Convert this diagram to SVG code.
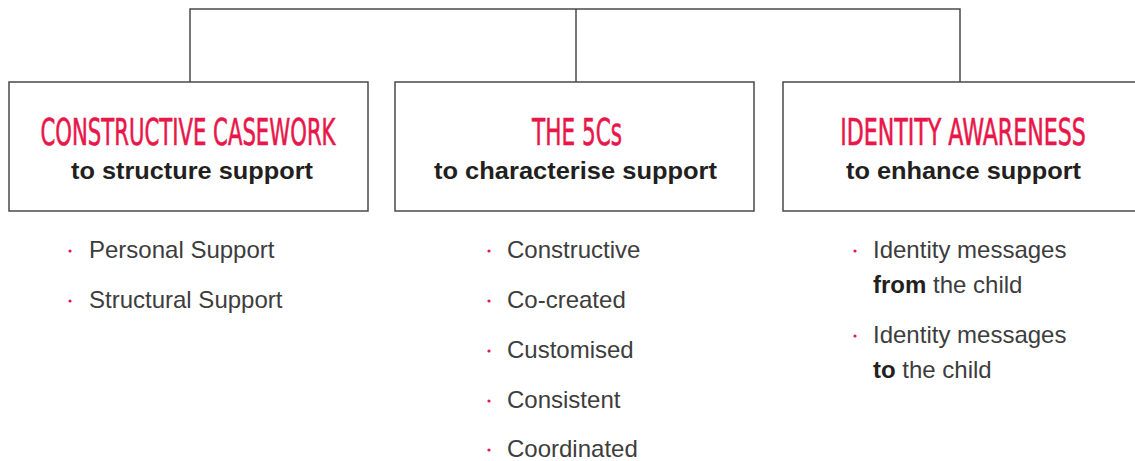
<svg xmlns="http://www.w3.org/2000/svg" width="1135" height="461" viewBox="0 0 1135 461">
<style>
.box{fill:#fff;stroke:#4a4a4a;stroke-width:1.5}
.conn{fill:none;stroke:#4a4a4a;stroke-width:1.5}
.title{font-family:"DejaVu Sans Condensed","DejaVu Sans",sans-serif;font-size:37px;fill:#e8174a;stroke:#e8174a;stroke-width:0.6;text-anchor:middle}
.sub{font-family:"Liberation Sans",Arial,sans-serif;font-weight:bold;font-size:24.5px;fill:#231f20;text-anchor:middle}
.item{font-family:"Liberation Sans",Arial,sans-serif;font-size:24px;fill:#3d3d3d}
.item tspan.b{font-weight:bold;fill:#231f20}
.dot{fill:#e8174a}
</style>
<rect width="1135" height="461" fill="#fff"/>
<g id="connectors">
<path class="conn" d="M190,82 V9 H960 V82"/>
<path class="conn" d="M576,9 V82"/>
</g>
<g id="node-casework">
<rect class="box" x="9" y="82" width="359" height="129"/>
<text class="title" x="188" y="145" textLength="295" lengthAdjust="spacingAndGlyphs">CONSTRUCTIVE CASEWORK</text>
<text class="sub" x="192" y="179" textLength="242" lengthAdjust="spacingAndGlyphs">to structure support</text>
</g>
<g id="node-5cs">
<rect class="box" x="395" y="82" width="359" height="129"/>
<text class="title" x="577" y="145" textLength="90" lengthAdjust="spacingAndGlyphs">THE 5Cs</text>
<text class="sub" x="575.5" y="179" textLength="283" lengthAdjust="spacingAndGlyphs">to characterise support</text>
</g>
<g id="node-identity">
<rect class="box" x="783" y="82" width="360" height="129"/>
<text class="title" transform="translate(963,145) scale(0.8,1)" x="0" y="0" textLength="307" lengthAdjust="spacingAndGlyphs">IDENTITY AWARENESS</text>
<text class="sub" x="963.5" y="179" textLength="235" lengthAdjust="spacingAndGlyphs">to enhance support</text>
</g>
<g id="list-casework">
<circle class="dot" cx="70" cy="251" r="1.6"/>
<text class="item" x="89" y="258">Personal Support</text>
<circle class="dot" cx="70" cy="301" r="1.6"/>
<text class="item" x="89" y="308">Structural Support</text>
</g>
<g id="list-5cs">
<circle class="dot" cx="489" cy="251" r="1.6"/>
<text class="item" x="507" y="258">Constructive</text>
<circle class="dot" cx="489" cy="301" r="1.6"/>
<text class="item" x="507" y="308">Co-created</text>
<circle class="dot" cx="489" cy="351" r="1.6"/>
<text class="item" x="507" y="358">Customised</text>
<circle class="dot" cx="489" cy="401" r="1.6"/>
<text class="item" x="507" y="408">Consistent</text>
<circle class="dot" cx="489" cy="450" r="1.6"/>
<text class="item" x="507" y="457">Coordinated</text>
</g>
<g id="list-identity">
<circle class="dot" cx="855" cy="251" r="1.6"/>
<text class="item" x="873" y="258">Identity messages</text>
<text class="item" x="873" y="293"><tspan class="b">from</tspan> the child</text>
<circle class="dot" cx="855" cy="336" r="1.6"/>
<text class="item" x="873" y="343">Identity messages</text>
<text class="item" x="873" y="378"><tspan class="b">to</tspan> the child</text>
</g>
</svg>
